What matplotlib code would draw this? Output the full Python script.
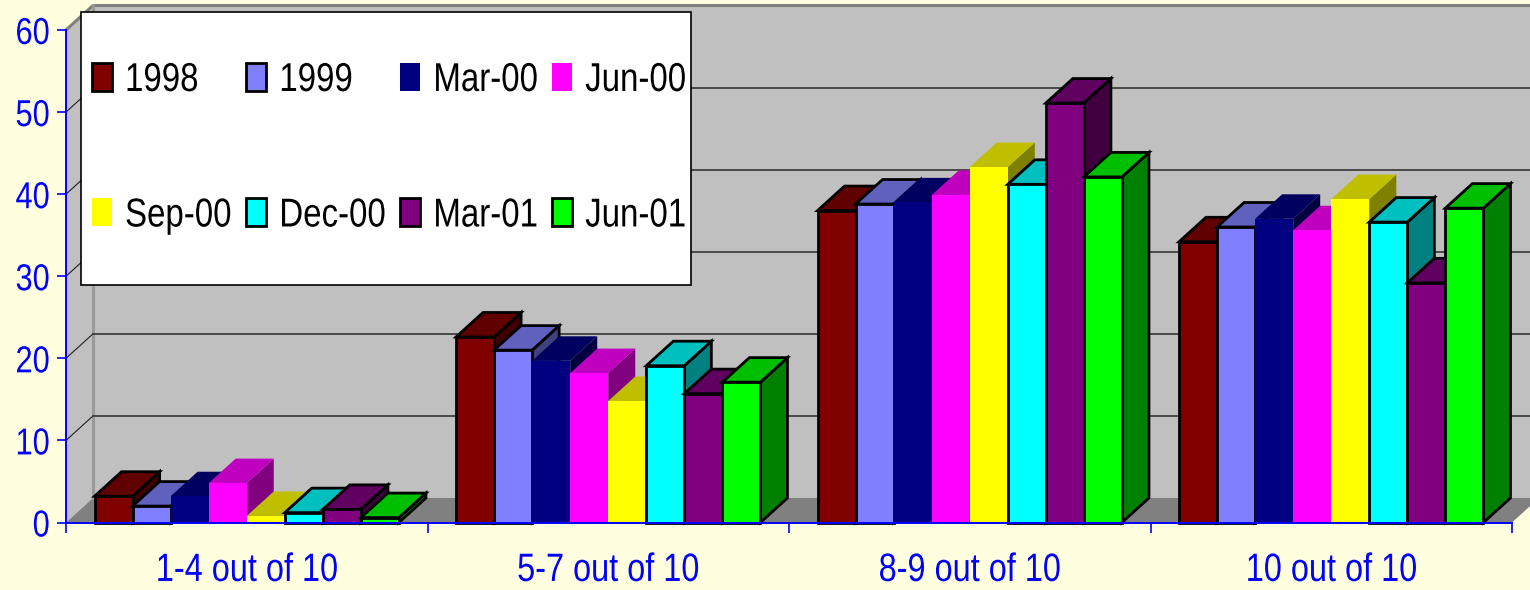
import matplotlib
matplotlib.use("Agg")
import matplotlib.pyplot as plt
from matplotlib.patches import Rectangle
from matplotlib.collections import PolyCollection
from matplotlib.colors import to_rgb
from matplotlib.patheffects import AbstractPathEffect
from matplotlib.transforms import Affine2D
from matplotlib.ticker import FixedLocator, NullFormatter, FixedFormatter

# ---- data -------------------------------------------------------------
categories = ["1-4 out of 10", "5-7 out of 10", "8-9 out of 10", "10 out of 10"]
series_names = ["1998", "1999", "Mar-00", "Jun-00", "Sep-00", "Dec-00", "Mar-01", "Jun-01"]

s_1998 = [3.2, 22.6, 38.0, 34.2]
s_1999 = [2.0, 21.0, 38.8, 36.0]
s_mar00 = [3.2, 19.7, 39.0, 37.0]
s_jun00 = [4.8, 18.2, 39.9, 35.6]
s_sep00 = [0.8, 14.8, 43.3, 39.4]
s_dec00 = [1.2, 19.1, 41.2, 36.6]
s_mar01 = [1.6, 15.7, 51.1, 29.2]
s_jun01 = [0.6, 17.1, 42.1, 38.3]

y_ticks = [0, 10, 20, 30, 40, 50, 60]

# ---- styling ----------------------------------------------------------
series_values = [s_1998, s_1999, s_mar00, s_jun00, s_sep00, s_dec00, s_mar01, s_jun01]
series_colors = ["#800000", "#8080FF", "#000080", "#FF00FF",
                 "#FFFF00", "#00FFFF", "#800080", "#00FF00"]
outlined = [True, True, False, False, False, True, True, True]

BG = "#FFFFE0"
BLUE = "#0000FF"
WALL = "#C0C0C0"
FLOOR = "#808080"
FONT = "Liberation Sans"
SQUEEZE = 0.82   # narrow-style lettering


class Condense(AbstractPathEffect):
    """Draw text horizontally compressed around a chosen anchor."""

    def __init__(self, sx=SQUEEZE, anchor="center"):
        super().__init__()
        self.sx = sx
        self.anchor = anchor

    def draw_path(self, renderer, gc, tpath, affine, rgbFace=None):
        ext = tpath.get_extents()
        px = {"left": 0.0, "center": 0.5 * (ext.x0 + ext.x1), "right": ext.x1}[self.anchor]
        squeeze = Affine2D().translate(-px, 0).scale(self.sx, 1).translate(px, 0)
        renderer.draw_path(gc, tpath, squeeze + affine, rgbFace)


W, H, DPI = 1530, 590, 100
fig = plt.figure(figsize=(W / DPI, H / DPI), dpi=DPI, facecolor=BG)

# plot area in pixels (front plane)
x_left, x_right = 66, 1512
y_base, y_top = 522.5, 30
ax = fig.add_axes([x_left / W, (H - y_base) / H,
                   (x_right - x_left) / W, (y_base - y_top) / H])
ax.set_xlim(0, len(categories))
ax.set_ylim(0, 60)
ax.patch.set_visible(False)

# depth offset of the pseudo-3D box, in data units
DEPTH_PX = (27, 24.5)
p0 = ax.transData.transform((0, 0))
dxd, dyd = ax.transData.inverted().transform(p0 + DEPTH_PX)
ncat = len(categories)
ymax = 60

# walls and floor
ax.add_patch(plt.Polygon([(dxd, dyd), (ncat + dxd, dyd), (ncat + dxd, ymax + dyd), (dxd, ymax + dyd)],
                         closed=True, fc=WALL, ec="none", zorder=0.5, clip_on=False))
ax.add_patch(plt.Polygon([(0, 0), (dxd, dyd), (dxd, ymax + dyd), (0, ymax)],
                         closed=True, fc=WALL, ec="none", zorder=0.6, clip_on=False))
ax.add_patch(plt.Polygon([(0, 0), (ncat, 0), (ncat + dxd, dyd), (dxd, dyd)],
                         closed=True, fc=FLOOR, ec="none", zorder=0.7, clip_on=False))
# wall edges
ax.plot([0, dxd, ncat + dxd], [ymax, ymax + dyd, ymax + dyd], color="#808080", lw=2.2,
        zorder=0.8, clip_on=False, solid_capstyle="butt")
ax.plot([dxd, dxd], [dyd, ymax + dyd], color="#9A9A9A", lw=2.2, zorder=0.8, clip_on=False)

# gridlines on the side and back walls
for v in y_ticks[1:-1]:
    ax.plot([0, dxd], [v, v + dyd], color="#202020", lw=0.8, zorder=0.9, clip_on=False)
    ax.plot([dxd, ncat + dxd], [v + dyd, v + dyd], color="#404040", lw=1.3, zorder=0.9,
            clip_on=False)


def shade(color, k):
    r, g, b = to_rgb(color)
    return (r * k, g * k, b * k)


# bars: side face, top face, front face; later series sit in front
nser = len(series_names)
bw = 1.0 / (nser + 1.5)
bars = []
for i, (name, vals, col, edge) in enumerate(zip(series_names, series_values,
                                                series_colors, outlined)):
    ec = "black" if edge else "none"
    lw = 2.0 if edge else 0
    lefts = [c + 0.5 - nser / 2 * bw + i * bw for c in range(ncat)]
    sides, tops = [], []
    for x0, h in zip(lefts, vals):
        x1 = x0 + bw
        sides.append([(x1, 0), (x1 + dxd, dyd), (x1 + dxd, h + dyd), (x1, h)])
        tops.append([(x0, h), (x1, h), (x1 + dxd, h + dyd), (x0 + dxd, h + dyd)])
    z = 2 + 3 * i
    ax.add_collection(PolyCollection(sides, facecolors=[shade(col, 0.5)], edgecolors=ec,
                                     linewidths=lw, zorder=z, clip_on=False,
                                     joinstyle="miter"))
    ax.add_collection(PolyCollection(tops, facecolors=[shade(col, 0.75)], edgecolors=ec,
                                     linewidths=lw, zorder=z + 1, clip_on=False,
                                     joinstyle="miter"))
    bars.append(ax.bar(lefts, vals, width=bw, align="edge", color=col, edgecolor=ec,
                       linewidth=lw, zorder=z + 2, clip_on=False, label=name))

# axes: blue front spines and ticks
for s in ("top", "right"):
    ax.spines[s].set_visible(False)
for s in ("left", "bottom"):
    ax.spines[s].set_color(BLUE)
    ax.spines[s].set_linewidth(1.4)
    ax.spines[s].set_zorder(40)

ax.set_yticks(y_ticks)
ax.tick_params(axis="y", direction="out", length=6.5, width=1.2, color=BLUE,
               labelcolor=BLUE, pad=5, labelsize=27)
ax.xaxis.set_major_locator(FixedLocator(range(ncat + 1)))
ax.xaxis.set_major_formatter(NullFormatter())
ax.xaxis.set_minor_locator(FixedLocator([c + 0.5 for c in range(ncat)]))
ax.xaxis.set_minor_formatter(FixedFormatter(categories))
ax.tick_params(axis="x", which="major", direction="out", length=7, width=1.2, color=BLUE)
ax.tick_params(axis="x", which="minor", length=0, pad=20.5, labelcolor=BLUE, labelsize=28.5)
for lab in ax.get_yticklabels():
    lab.set_fontfamily(FONT)
    lab.set_path_effects([Condense(anchor="right")])
for lab in ax.get_xticklabels(minor=True):
    lab.set_fontfamily(FONT)
    lab.set_path_effects([Condense(anchor="center")])

# legend box and entries (filled row by row)
box = Rectangle((81 / W, 1 - 285 / H), 610 / W, 273 / H, transform=fig.transFigure,
                fc="white", ec="black", lw=1.2, zorder=50, clip_on=False)
ax.add_patch(box)
order = [0, 4, 1, 5, 2, 6, 3, 7]
leg = ax.legend([bars[k] for k in order], [series_names[k] for k in order],
                ncol=4, loc="upper left", bbox_to_anchor=(92 / W, 1 - 61 / H),
                bbox_transform=fig.transFigure, frameon=False, borderpad=0,
                borderaxespad=0, handlelength=0.5, handleheight=0.7, handletextpad=0.32,
                columnspacing=-0.22, labelspacing=2.42,
                prop={"family": FONT, "size": 29})
leg.set_zorder(60)
for t in leg.get_texts():
    t.set_path_effects([Condense(anchor="left")])

fig.savefig("out.png", dpi=DPI, facecolor=BG)
